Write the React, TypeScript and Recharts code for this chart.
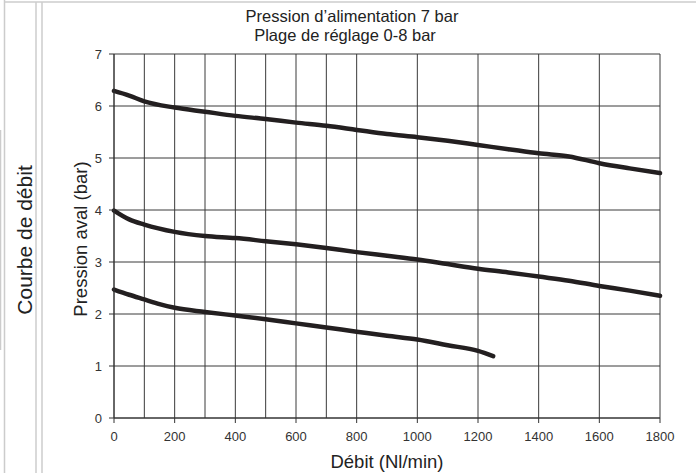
import { CartesianGrid, Line, LineChart, XAxis, YAxis } from "recharts";

// flow in Nl/min, downstream pressure in bar
const highFlow = [0, 50, 100, 200, 300, 400, 500, 600, 700, 800, 900, 1000, 1100, 1200, 1300, 1400, 1500, 1600, 1700, 1800];
const highPressure = [6.29, 6.2, 6.09, 5.97, 5.89, 5.81, 5.75, 5.68, 5.62, 5.54, 5.46, 5.4, 5.33, 5.25, 5.17, 5.09, 5.03, 4.9, 4.8, 4.71];

const midFlow = [0, 50, 100, 200, 300, 400, 500, 600, 700, 800, 900, 1000, 1100, 1200, 1300, 1400, 1500, 1600, 1700, 1800];
const midPressure = [3.99, 3.82, 3.72, 3.58, 3.5, 3.46, 3.4, 3.34, 3.27, 3.19, 3.12, 3.05, 2.96, 2.87, 2.8, 2.72, 2.64, 2.54, 2.45, 2.35];

const lowFlow = [0, 50, 100, 150, 200, 300, 400, 500, 600, 700, 800, 900, 1000, 1100, 1200, 1250];
const lowPressure = [2.47, 2.37, 2.28, 2.19, 2.12, 2.04, 1.97, 1.9, 1.82, 1.74, 1.66, 1.58, 1.51, 1.4, 1.29, 1.19];

const xTicks = [0, 200, 400, 600, 800, 1000, 1200, 1400, 1600, 1800];
const xGrid = [0, 100, 200, 300, 400, 500, 600, 700, 800, 900, 1000, 1100, 1200, 1300, 1400, 1500, 1600, 1700, 1800];
const yTicks = [0, 1, 2, 3, 4, 5, 6, 7];

const toPoints = (xs: number[], ys: number[]) => xs.map((x, i) => ({ x, p: ys[i] }));

const FONT = '"Liberation Sans", Arial, Helvetica, sans-serif';
const INK = "#231f20";
const FRAME = "#cccccc";

const tickStyle = { fontSize: 13, fill: "#333", fontFamily: FONT };

export default function App() {
  const curves = [toPoints(highFlow, highPressure), toPoints(midFlow, midPressure), toPoints(lowFlow, lowPressure)];
  return (
    <div style={{ position: "absolute", left: 0, top: 0, width: 696, height: 473, background: "#fff", fontFamily: FONT }}>
      <LineChart width={696} height={473} margin={{ top: 54, right: 36, left: 74, bottom: 25 }}>
        <CartesianGrid stroke="#3a3a3a" strokeWidth={1} verticalValues={xGrid} horizontalValues={yTicks} />
        <XAxis
          type="number"
          dataKey="x"
          domain={[0, 1800]}
          ticks={xTicks}
          height={30}
          tickSize={5}
          tickMargin={9}
          tick={tickStyle}
          stroke="#333"
          allowDuplicatedCategory={false}
        />
        <YAxis
          type="number"
          dataKey="p"
          domain={[0, 7]}
          ticks={yTicks}
          width={40}
          tickSize={5}
          tickMargin={7}
          tick={tickStyle}
          stroke="#333"
        />
        {curves.map((data, i) => (
          <Line
            key={i}
            data={data}
            dataKey="p"
            type="monotone"
            stroke={INK}
            strokeWidth={4.5}
            dot={false}
            activeDot={false}
            strokeLinecap="round"
            isAnimationActive={false}
          />
        ))}
      </LineChart>
      <svg width={696} height={473} style={{ position: "absolute", left: 0, top: 0, pointerEvents: "none" }}>
        <line x1={4.5} y1={0} x2={4.5} y2={473} stroke={FRAME} strokeWidth={1.5} />
        <line x1={36} y1={2} x2={36} y2={473} stroke={FRAME} strokeWidth={1.5} />
        <line x1={42} y1={2} x2={42} y2={473} stroke={FRAME} strokeWidth={1.5} />
        <line x1={4} y1={2} x2={696} y2={2} stroke={FRAME} strokeWidth={1.5} />
        <line x1={0.5} y1={130} x2={0.5} y2={350} stroke={FRAME} strokeWidth={1.5} />
        <text x={24} y={240} transform="rotate(-90 24 240)" textAnchor="middle" dominantBaseline="central" fontSize={21} fill="#222" fontFamily={FONT}>
          Courbe de débit
        </text>
        <text x={80} y={239} transform="rotate(-90 80 239)" textAnchor="middle" dominantBaseline="central" fontSize={18.5} fill="#222" fontFamily={FONT}>
          Pression aval (bar)
        </text>
        <text x={352} y={22} textAnchor="middle" fontSize={16.5} fill="#222" fontFamily={FONT}>
          Pression d’alimentation 7 bar
        </text>
        <text x={345} y={41} textAnchor="middle" fontSize={16.5} fill="#222" fontFamily={FONT}>
          Plage de réglage 0-8 bar
        </text>
        <text x={387} y={468} textAnchor="middle" fontSize={18.5} fill="#222" fontFamily={FONT}>
          Débit (Nl/min)
        </text>
      </svg>
    </div>
  );
}
